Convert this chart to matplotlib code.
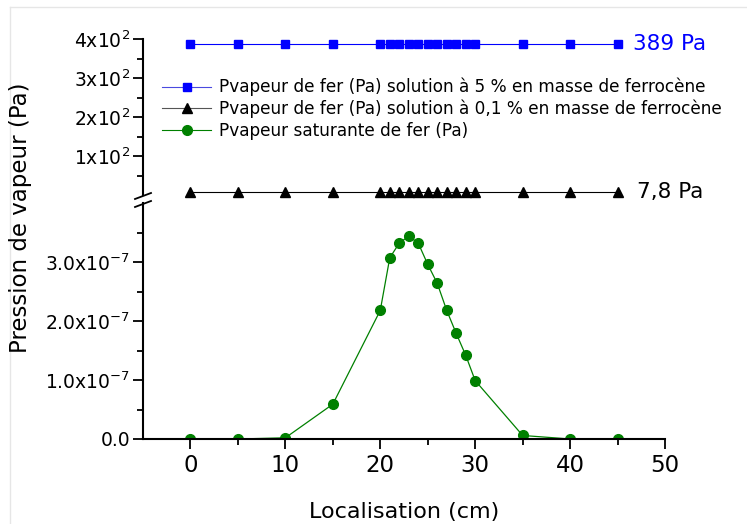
import matplotlib
matplotlib.use("Agg")
import matplotlib.pyplot as plt
from matplotlib.lines import Line2D
from matplotlib.ticker import FixedLocator, FuncFormatter

plt.rcParams['font.family'] = ['DejaVu Sans']
plt.rcParams['mathtext.default'] = 'regular'

# Data
localisation = [0, 5, 10, 15, 20, 21, 22, 23, 24, 25, 26, 27, 28, 29, 30, 35, 40, 45]
p_sol_5 = [389] * len(localisation)
p_sol_01 = [7.8] * len(localisation)
p_sat = [0.0, 0.0, 0.02e-7, 0.59e-7, 2.18e-7, 3.07e-7, 3.32e-7, 3.44e-7, 3.32e-7,
         2.96e-7, 2.64e-7, 2.18e-7, 1.79e-7, 1.42e-7, 0.99e-7, 0.06e-7, 0.0, 0.0]

labels = ["Pvapeur de fer (Pa) solution à 5 % en masse de ferrocène",
          "Pvapeur de fer (Pa) solution à 0,1 % en masse de ferrocène",
          "Pvapeur saturante de fer (Pa)"]
upper_ticks = [100, 200, 300, 400]
lower_ticks = [0, 1e-7, 2e-7, 3e-7]

W, H = 747, 524
fig = plt.figure(figsize=(W / 100, H / 100), dpi=100)

def fx(px):
    return px / W

def fy(py):
    return 1 - py / H

left, right = fx(143), fx(665)
ax_lo = fig.add_axes([left, fy(439), right - left, fy(203) - fy(439)])
ax_hi = fig.add_axes([left, fy(195.3), right - left, fy(39.3) - fy(195.3)])

blue = '#0000ff'
green = '#008000'

ax_hi.plot(localisation, p_sol_5, color=blue, lw=0.8, marker='s', ms=5.5,
           clip_on=False)
ax_hi.plot(localisation, p_sol_01, color='black', lw=0.8, marker='^', ms=6.5,
           clip_on=False)
ax_lo.plot(localisation, p_sat, color=green, lw=0.9, marker='o', ms=7)

for ax in (ax_lo, ax_hi):
    ax.set_xlim(-5, 50)
    ax.spines['top'].set_visible(False)
    ax.spines['right'].set_visible(False)
    for s in ax.spines.values():
        s.set_linewidth(1.5)
    ax.tick_params(axis='both', which='major', direction='out', length=7, width=1.3,
                   colors='black')
    ax.tick_params(axis='both', which='minor', direction='out', length=4, width=1.3)

ax_hi.spines['bottom'].set_visible(False)
ax_hi.set_xticks([])
ax_hi.tick_params(axis='x', which='both', bottom=False, labelbottom=False)
ax_hi.set_ylim(0, 400)
ax_hi.yaxis.set_major_locator(FixedLocator(upper_ticks))
ax_hi.yaxis.set_minor_locator(FixedLocator([50, 150, 250, 350]))
ax_hi.yaxis.set_major_formatter(FuncFormatter(lambda v, p: r'%dx10$^{2}$' % round(v / 100)))
ax_hi.tick_params(axis='y', labelsize=13.5, pad=2)

ax_lo.set_ylim(0, 4e-7)
ax_lo.yaxis.set_major_locator(FixedLocator(lower_ticks))
ax_lo.yaxis.set_minor_locator(FixedLocator([0.5e-7, 1.5e-7, 2.5e-7, 3.5e-7]))
ax_lo.yaxis.set_major_formatter(FuncFormatter(
    lambda v, p: '0.0' if v == 0 else r'%.1fx10$^{-7}$' % (v / 1e-7)))
ax_lo.tick_params(axis='y', labelsize=13.5, pad=2)
ax_lo.xaxis.set_major_locator(FixedLocator([0, 10, 20, 30, 40, 50]))
ax_lo.xaxis.set_minor_locator(FixedLocator([5, 15, 25, 35, 45]))
ax_lo.tick_params(axis='x', labelsize=16.5, pad=4)
ax_lo.set_xlabel('Localisation (cm)', fontsize=16, labelpad=18)

fig.text(fx(21), fy(218), 'Pression de vapeur (Pa)', rotation=90, fontsize=16.5,
         ha='center', va='center')

# annotations
ax_hi.text(46.6, 389, '389 Pa', color=blue, fontsize=15.5, va='center', ha='left',
           clip_on=False)
ax_hi.text(47.1, 7.8, '7,8 Pa', color='black', fontsize=15.5, va='center', ha='left',
           clip_on=False)

# legend
handles = [Line2D([], [], color='#4a4adf', lw=0.8, marker='s', ms=5.5, mfc=blue, mec=blue),
           Line2D([], [], color='#555555', lw=0.8, marker='^', ms=6.5, mfc='black', mec='black'),
           Line2D([], [], color=green, lw=0.8, marker='o', ms=7, mfc=green, mec=green)]
ax_hi.legend(handles, labels, loc='upper left', bbox_to_anchor=(fx(162), fy(78)),
             bbox_transform=fig.transFigure, frameon=False, fontsize=12.2,
             handlelength=2.9, handletextpad=0.45, labelspacing=0.2, borderpad=0,
             borderaxespad=0)

# break marks
for y0 in (199, 207):
    fig.add_artist(Line2D([fx(135), fx(151)], [fy(y0), fy(y0 - 6)], color='black',
                          lw=1.3, transform=fig.transFigure))

# faint figure border
fig.add_artist(Line2D([fx(10), fx(10)], [fy(7), 0], color='#e6e6e6', lw=1,
                      transform=fig.transFigure))
fig.add_artist(Line2D([fx(10), 1], [fy(7), fy(7)], color='#e6e6e6', lw=1,
                      transform=fig.transFigure))

fig.savefig('out.png', dpi=100)
